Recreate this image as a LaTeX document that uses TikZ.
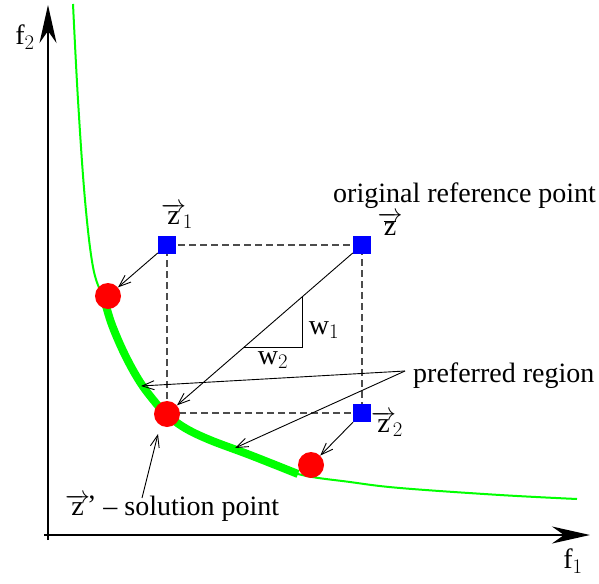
\documentclass[tikz,border=0pt]{standalone}
\usepackage{fontspec}
\setmainfont{Liberation Serif}
\usetikzlibrary{arrows.meta}
\newcommand{\vzsub}[1]{$\overrightarrow{\mathrm{z}}\kern-3pt{}_{#1}$}
\begin{document}
\begin{tikzpicture}[x=1pt,y=-1pt,
  lab/.style={font=\fontsize{28}{30}\selectfont, inner sep=0pt},
  sq/.style={fill=blue, minimum size=18pt, inner sep=0pt},
  dot/.style={circle, fill=red, minimum size=26pt, inner sep=0pt},
  conn/.style={line width=0.9pt, -{Straight Barb[length=12pt,width=9pt]}},
  axis/.style={line width=2pt, -{Stealth[length=38pt,width=17pt,inset=12pt]}},
  box/.style={dash pattern=on 7pt off 4pt, line width=1.2pt, draw=black!70},
  thin curve/.style={draw=green, line width=2pt},
  thick curve/.style={draw=green, line width=8pt},
]
\useasboundingbox (0,0) rectangle (599,583);

% axes
\coordinate (ybot) at (48,540);
\coordinate (ytop) at (48,5);
\coordinate (xbeg) at (44,535);
\coordinate (xend) at (590,535);
\draw[axis] (ybot) -- (ytop);
\draw[axis] (xbeg) -- (xend);
\node[lab] (f2) at (25,37) {f$_2$};
\node[lab] (f1) at (573,561) {f$_1$};

% front curve
\draw[thin curve] plot[smooth, tension=0.6] coordinates {
  (73,4) (78,100) (85,200) (93,267) (103,298) (112,325) (125,355) (140,382)
  (155,402) (166,414) (185,428) (210,440) (250,456) (298,474) (350,482)
  (400,488) (500,495) (577,499)};
\draw[thick curve] plot[smooth, tension=0.6] coordinates {
  (105,302) (112,325) (125,355) (140,382) (155,402) (166,414) (185,428)
  (210,440) (250,455) (298,474)};

% dashed box
\draw[box] (167,245) -- (362,245) -- (362,413) -- (167,413) -- cycle;

% points
\node[sq] (z1) at (167,245) {};
\node[sq] (z) at (362,245) {};
\node[sq] (z2) at (362,413) {};
\node[dot] (c1) at (108,296) {};
\node[dot] (c2) at (167,414) {};
\node[dot] (c3) at (311,465) {};

% labels
\node[lab] (lz1) at (177,216) {\vzsub{1}};
\node[lab] (lz) at (390,224) {$\overrightarrow{\overline{\mathrm{z}}}$};
\node[lab] (lz2) at (387,424) {\vzsub{2}};
\node[lab, anchor=base west] (orig) at (333,202) {original reference point};
\node[lab, anchor=base west] (pref) at (413,382) {preferred region};
\node[lab, anchor=base west] (sol) at (65,515) {$\overrightarrow{\mathrm{z}}$\kern-3pt\raisebox{1pt}{'} -- solution point};

% weight triangle
\coordinate (t1) at (302,297);
\coordinate (t2) at (302,347);
\coordinate (t3) at (244,347);
\draw[line width=0.9pt] (t1) -- (t2) -- (t3);
\node[lab] (w1) at (324,330) {w$_1$};
\node[lab] (w2) at (273,360) {w$_2$};

% connectors
\draw[conn] (z1) -- (c1);
\draw[conn] (z) -- (c2);
\draw[conn] (z2) -- (c3);
\coordinate (pr) at (405,371);
\coordinate (pa) at (141,386);
\coordinate (pb) at (235,448);
\draw[conn] (pr) -- (pa);
\draw[conn] (pr) -- (pb);
\coordinate (sa) at (142,498);
\coordinate (sb) at (158,434);
\draw[conn] (sa) -- (sb);
\end{tikzpicture}
\end{document}
